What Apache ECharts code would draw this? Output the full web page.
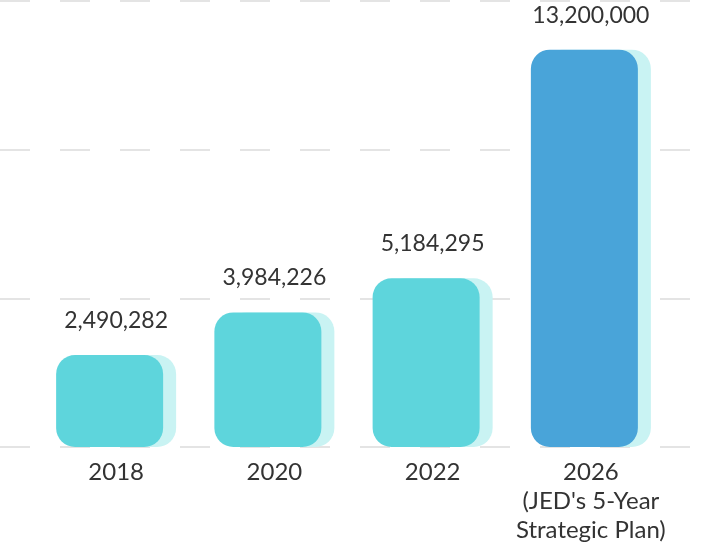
<!DOCTYPE html>
<html>
<head>
<meta charset="utf-8">
<script src="https://cdn.jsdelivr.net/npm/echarts@6/dist/echarts.min.js"></script>
<style>
html,body{margin:0;padding:0;background:#fff;}
#chart{width:705px;height:549px;}
</style>
</head>
<body>
<div id="chart"></div>
<script>
const categories = ['2018', '2020', '2022', "2026\n(JED's 5-Year\nStrategic Plan)"];
const values = [2490282, 3984226, 5184295, 13200000];
const gridTicks = [0, 1, 2, 3];

const TEAL = '#5ED5DC';
const BLUE = '#49A4D9';
const SHADOW = '#C9F3F3';
const FONT = 'Lato';

const chart = echarts.init(document.getElementById('chart'), null, {renderer: 'canvas'});
chart.setOption({
  animation: false,
  backgroundColor: '#ffffff',
  grid: [
    {left: 37, right: 35, top: 1, bottom: 102},
    {left: 0, right: 0, top: 1, bottom: 102}
  ],
  xAxis: [
    {
      type: 'category', gridIndex: 0, data: categories,
      axisLine: {show: false}, axisTick: {show: false},
      axisLabel: {interval: 0, hideOverlap: false, color: '#333333', fontFamily: FONT, fontSize: 24, lineHeight: 29, margin: 11}
    },
    {type: 'value', gridIndex: 1, show: false, min: 0, max: 1}
  ],
  yAxis: [
    {
      type: 'value', gridIndex: 0, min: -737000, max: 14907000, startValue: -737000,
      show: false, splitLine: {show: false}
    },
    {
      type: 'value', gridIndex: 1, min: gridTicks[0], max: gridTicks[gridTicks.length - 1], interval: 1,
      axisLine: {show: false}, axisTick: {show: false}, axisLabel: {show: false},
      splitLine: {show: true, lineStyle: {color: '#E4E4E4', width: 2, type: [30, 30], dashOffset: 0}}
    }
  ],
  series: [
    {
      type: 'bar', xAxisIndex: 0, yAxisIndex: 0, data: values, z: 3,
      barWidth: 107, barGap: '-87.85%',
      itemStyle: {
        borderRadius: 19,
        color: p => (p.dataIndex === values.length - 1 ? BLUE : TEAL)
      },
      label: {
        show: true, position: 'top', distance: 23, offset: [6.5, 0],
        color: '#333333', fontFamily: FONT, fontSize: 23,
        formatter: p => p.value.toLocaleString('en-US')
      }
    },
    {
      type: 'bar', xAxisIndex: 0, yAxisIndex: 0, data: values, z: 2,
      barWidth: 107,
      itemStyle: {borderRadius: 19, color: SHADOW},
      silent: true
    }
  ]
});
</script>
</body>
</html>
